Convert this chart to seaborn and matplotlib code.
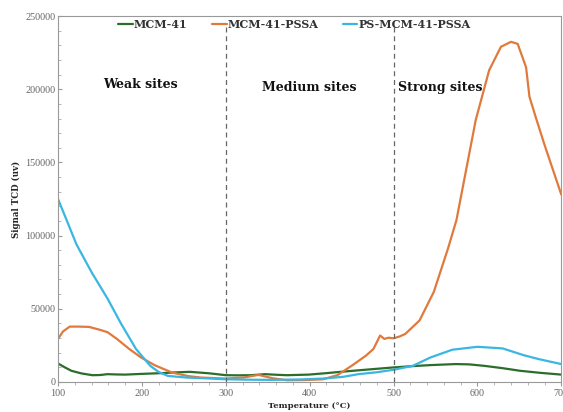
import numpy as np
import pandas as pd
import matplotlib
matplotlib.use("Agg")
import matplotlib.pyplot as plt
from matplotlib.ticker import MultipleLocator
import seaborn as sns

# TPD profiles: temperature (°C) and TCD signal (uv)
mcm41_t = [100, 108, 116, 128, 141, 150, 159, 170, 180, 200, 223, 240, 257, 280, 300, 315,
           330, 347, 360, 373, 399, 420, 437, 470, 500, 520, 544, 574, 590, 608, 630, 651, 675, 700]
mcm41_s = [12600, 10000, 7600, 5800, 4600, 4700, 5300, 5100, 5000, 5500, 6000, 6500, 6900, 5900,
           4600, 4500, 4600, 5300, 4900, 4600, 5000, 6000, 6900, 8500, 9900, 10700, 11500, 12200,
           12000, 11000, 9400, 7600, 6200, 5000]

pssa_t = [100, 106, 114, 125, 137, 150, 159, 170, 185, 199, 215, 236, 255, 270, 300, 321, 339,
          356, 373, 395, 416, 433, 450, 467, 476, 484, 489, 494, 500, 507, 514, 531, 548, 565,
          575, 598, 614, 628, 640, 648, 658, 662, 670, 680, 690, 700]
pssa_s = [29400, 34500, 37800, 37800, 37600, 35600, 34000, 29500, 22500, 16700, 11500, 6400, 4000,
          3000, 2300, 3000, 4800, 2500, 1150, 1300, 1800, 4600, 11000, 17900, 22500, 31700, 29400,
          30200, 29800, 31000, 32800, 42000, 61500, 91300, 110600, 179000, 213000, 229000, 232400,
          231000, 215000, 195000, 180000, 162000, 145000, 128000]

ps_t = [100, 110, 122, 140, 159, 175, 193, 210, 220, 231, 253, 275, 300, 330, 356, 390, 416, 440,
        458, 480, 500, 523, 544, 570, 600, 630, 655, 673, 700]
ps_s = [125000, 111000, 94000, 75000, 57000, 40000, 22500, 11000, 6800, 4100, 3000, 2500, 1800,
        1500, 1400, 1700, 2300, 3500, 5300, 6600, 8300, 11000, 16700, 22000, 24000, 22900, 18300,
        15600, 12200]

series_names = ["MCM-41", "MCM-41-PSSA", "PS-MCM-41-PSSA"]
series_colors = ["#2b6e2b", "#e07a3c", "#3ab6e2"]

region_labels = ["Weak sites", "Medium sites", "Strong sites"]
region_x = [198, 400, 556]
region_y = [203000, 201000, 201000]
boundaries = [300, 500]

frames = []
for name, t, s in zip(series_names, [mcm41_t, pssa_t, ps_t], [mcm41_s, pssa_s, ps_s]):
    frames.append(pd.DataFrame({"Temperature": t, "Signal": s, "Sample": name}))
df = pd.concat(frames, ignore_index=True)

sns.set_style("white")
plt.rcParams["font.family"] = ["DejaVu Serif"]

fig = plt.figure(figsize=(5.63, 4.12), dpi=100)
ax = fig.add_axes([0.103, 0.073, 0.894, 0.888])

sns.lineplot(data=df, x="Temperature", y="Signal", hue="Sample", hue_order=series_names,
             palette=series_colors, linewidth=1.6, sort=False, estimator=None, ax=ax)

for b in boundaries:
    ax.axvline(b, ymin=0, ymax=0.97, color="#666666", linestyle=(0, (4, 3)), linewidth=0.9)

for lab, x, y in zip(region_labels, region_x, region_y):
    ax.text(x, y, lab, ha="center", va="center", fontsize=9, fontweight="bold", color="#111111")

ax.set_xlim(100, 700)
ax.set_ylim(0, 250000)
ax.xaxis.set_major_locator(MultipleLocator(100))
ax.xaxis.set_minor_locator(MultipleLocator(20))
ax.yaxis.set_major_locator(MultipleLocator(50000))
ax.yaxis.set_minor_locator(MultipleLocator(10000))
ax.tick_params(axis="both", which="major", labelsize=7.3, labelcolor="#666666", length=3,
               color="#999999", pad=2)
ax.tick_params(axis="x", which="both", direction="out")
ax.tick_params(axis="y", which="both", direction="in")
ax.tick_params(axis="both", which="minor", length=2, color="#aaaaaa")
ax.tick_params(bottom=True, left=True, which="both")
for lbl in ax.get_xticklabels() + ax.get_yticklabels():
    lbl.set_fontfamily("Liberation Serif")

for sp in ax.spines.values():
    sp.set_color("#999999")
    sp.set_linewidth(0.8)

ax.set_xlabel("Temperature (°C)", fontsize=6, fontweight="bold", labelpad=3)
ax.set_ylabel("Signal TCD (uv)", fontsize=6.2, fontweight="bold", labelpad=3)

leg = ax.legend(loc="upper center", bbox_to_anchor=(0.47, 1.01), ncol=3, frameon=False,
                fontsize=8, handlelength=1.3, handletextpad=0.1, columnspacing=2.2,
                borderaxespad=0.2)
for t in leg.get_texts():
    t.set_fontweight("bold")
    t.set_color("#333333")

fig.savefig("out.png", dpi=100)
